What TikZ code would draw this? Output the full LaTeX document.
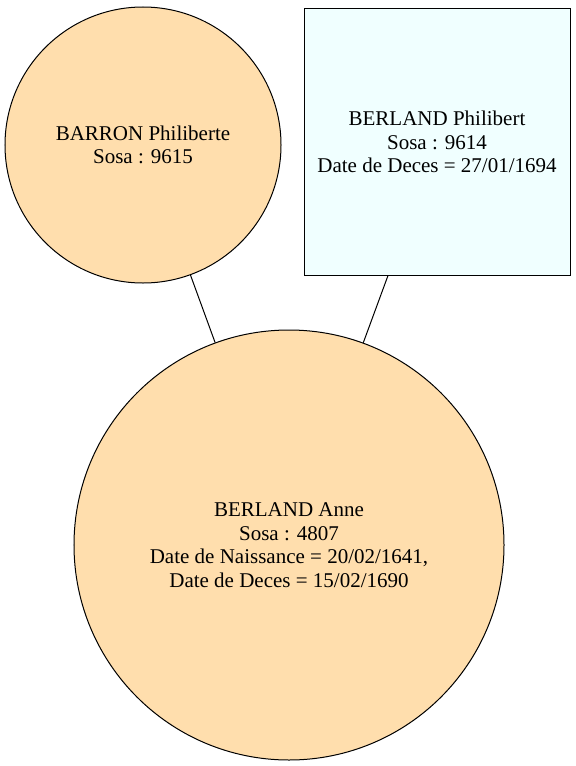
\documentclass[tikz,border=0pt]{standalone}
\usepackage{fontspec}
\setmainfont{Liberation Serif}
\usetikzlibrary{positioning}
\definecolor{Peach}{HTML}{FFDEAD}
\definecolor{Azure}{HTML}{F0FFFF}
\tikzset{
    femme/.style={circle, draw=black, fill=Peach, align=center, inner sep=0pt, line width=1bp, font=\fontsize{21bp}{23.5bp}\selectfont},
    homme/.style={rectangle, draw=black, fill=Azure, align=center, inner sep=0pt, line width=1bp, minimum width=266bp, minimum height=266bp, font=\fontsize{21bp}{23.5bp}\selectfont},
    lien/.style={draw=black, line width=1bp},
}
\begin{document}
\begin{tikzpicture}[x=1bp, y=-1bp]
    \useasboundingbox (0,0) rectangle (576,766);

    % Parents
    \node[femme, minimum size=276bp] (barron) at (143,145) {BARRON Philiberte\\Sosa : 9615};
    \node[homme] (philibert) at (437,142) {BERLAND Philibert\\Sosa : 9614\\Date de Deces = 27/01/1694};

    % Enfant
    \node[femme, minimum size=430bp] (anne) at (289,545) {BERLAND Anne\\Sosa : 4807\\Date de Naissance = 20/02/1641,\\Date de Deces = 15/02/1690};

    % Liens
    \draw[lien] (barron) -- (anne);
    \draw[lien] (philibert) -- (anne);
\end{tikzpicture}
\end{document}
